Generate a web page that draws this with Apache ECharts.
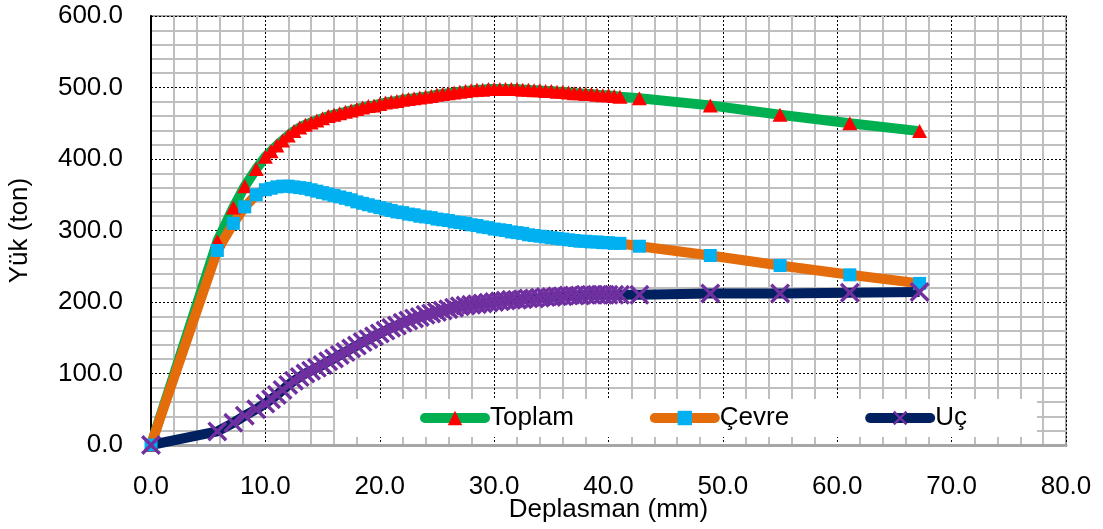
<!DOCTYPE html>
<html>
<head>
<meta charset="utf-8">
<script src="https://cdn.jsdelivr.net/npm/echarts@6/dist/echarts.min.js"></script>
<style>
  html, body { margin: 0; padding: 0; background: #fff; }
  #main { width: 1103px; height: 529px; }
</style>
</head>
<body>
<div id="main"></div>
<script>
// deplasman (mm) - ortak x değerleri
var disp = [0, 5.8, 7.2, 8.2, 9.2, 10.0, 10.5, 11.0, 11.5, 12.0, 12.5, 13.0, 13.5, 14.0, 14.5, 15.0,
	15.5, 16.0, 16.5, 17.0, 17.5, 18.0, 18.5, 19.0, 19.5, 20.0, 20.5, 21.0, 21.5, 22.0, 22.5, 23.0,
	23.5, 24.0, 24.5, 25.0, 25.5, 26.0, 26.5, 27.0, 27.5, 28.0, 28.5, 29.0, 29.5, 30.0, 30.5, 31.0,
	31.5, 32.0, 32.5, 33.0, 33.5, 34.0, 34.5, 35.0, 35.5, 36.0, 36.5, 37.0, 37.5, 38.0, 38.5, 39.0,
	39.5, 40.0, 40.5, 41.0, 42.7, 48.9, 55.0, 61.1, 67.2];
// yük (ton)
var toplam = [0, 285, 332, 362, 386, 403, 411, 419, 426, 433, 439, 444, 448, 451, 454, 457,
	460, 462, 464, 466, 468, 470, 472, 474, 475, 477, 479, 480, 481, 483, 484, 485,
	486, 487, 488, 490, 491, 492, 493, 494, 495, 496, 497, 497, 498, 498, 498, 498,
	498, 498, 497, 497, 496, 496, 495, 495, 494, 494, 493, 492, 492, 491, 491, 490,
	489, 489, 488, 487, 485, 475, 462, 450, 439];
var cevre = [0, 272, 310, 333, 350, 357, 359, 361, 362, 362, 361, 360, 359, 357, 355, 353,
	351, 349, 347, 345, 343, 340, 338, 336, 334, 332, 330, 328, 326, 325, 323, 322,
	320, 319, 318, 316, 315, 314, 312, 311, 310, 308, 307, 305, 304, 302, 301, 300,
	298, 297, 296, 294, 293, 292, 291, 290, 289, 288, 287, 286, 285, 285, 284, 284,
	283, 283, 282, 282, 278, 265, 251, 238, 226];
var uc = [0, 19, 31, 41, 50, 58, 64, 70, 77, 84, 90, 95, 100, 104, 108, 112,
	117, 121, 126, 130, 135, 139, 144, 148, 152, 156, 160, 164, 167, 171, 174, 177,
	179, 182, 184, 186, 188, 190, 192, 194, 195, 196, 197, 198, 199, 200, 201, 202,
	203, 203, 204, 205, 205, 206, 207, 207, 208, 208, 209, 209, 209, 210, 210, 210,
	210, 210, 210, 210, 210, 212, 212, 213, 214];
var seriesNames = ['Toplam', 'Çevre', 'Uç'];

var font = "'Liberation Sans', Arial, sans-serif";
var crossPath = 'path://M0,1.2L1.2,0L5,3.8L8.8,0L10,1.2L6.2,5L10,8.8L8.8,10L5,6.2L1.2,10L0,8.8L3.8,5Z';

function pairs(ys) {
	var out = [];
	for (var i = 0; i < disp.length; i++) {
		out.push([disp[i], ys[i]]);
	}
	return out;
}

var myChart = echarts.init(document.getElementById('main'));
var option = {
	animation: false,
	textStyle: { fontFamily: font },
	grid: {
		left: 151, right: 37, top: 16, bottom: 84,
		outerBoundsMode: 'none',
		show: true, borderColor: '#a6a6a6', borderWidth: 2
	},
	legend: {
		data: seriesNames,
		left: 335, top: 399,
		padding: [6, 70, 6, 85],
		backgroundColor: '#fff',
		itemWidth: 60, itemHeight: 18, itemGap: 76,
		lineStyle: { width: 10, cap: 'round' },
		textStyle: { fontSize: 26, color: '#000', fontFamily: font }
	},
	xAxis: {
		type: 'value', min: 0, max: 80, interval: 10,
		name: 'Deplasman (mm)', nameLocation: 'middle', nameGap: 52,
		nameMoveOverlap: false,
		nameTextStyle: { fontSize: 26, color: '#000' },
		axisLine: { show: true, lineStyle: { color: '#a6a6a6', width: 3 } },
		axisTick: { show: false },
		axisLabel: { fontSize: 26, color: '#000', margin: 29, formatter: function (v) { return v.toFixed(1); } },
		splitLine: { show: true, lineStyle: { color: '#000', width: 1, type: [2, 2] } },
		minorTick: { show: false, splitNumber: 5 },
		minorSplitLine: { show: true, lineStyle: { color: '#bfbfbf', width: 2 } }
	},
	yAxis: {
		type: 'value', min: 0, max: 600, interval: 100,
		name: 'Yük (ton)', nameLocation: 'middle', nameGap: 118,
		nameMoveOverlap: false,
		nameTextStyle: { fontSize: 26, color: '#000' },
		axisLine: { show: true, lineStyle: { color: '#000', width: 2 } },
		axisTick: { show: false },
		axisLabel: { fontSize: 26, color: '#000', margin: 28, formatter: function (v) { return v.toFixed(1); } },
		splitLine: { show: true, lineStyle: { color: '#000', width: 1, type: [2, 2] } },
		minorTick: { show: false, splitNumber: 5 },
		minorSplitLine: { show: true, lineStyle: { color: '#bfbfbf', width: 2 } }
	},
	series: [
		{
			name: 'Toplam', type: 'line', data: pairs(toplam),
			showAllSymbol: true, symbol: 'triangle', symbolSize: [15, 14],
			lineStyle: { color: '#00b050', width: 10 },
			itemStyle: { color: '#ff0000' }
		},
		{
			name: 'Çevre', type: 'line', data: pairs(cevre),
			showAllSymbol: true, symbol: 'rect', symbolSize: 13,
			lineStyle: { color: '#e46c0a', width: 10 },
			itemStyle: { color: '#00b0f0' }
		},
		{
			name: 'Uç', type: 'line', data: pairs(uc),
			showAllSymbol: true, symbol: crossPath, symbolSize: 20,
			lineStyle: { color: '#002060', width: 10 },
			itemStyle: { color: '#7030a0' }
		}
	]
};
myChart.setOption(option, true);
</script>
</body>
</html>
